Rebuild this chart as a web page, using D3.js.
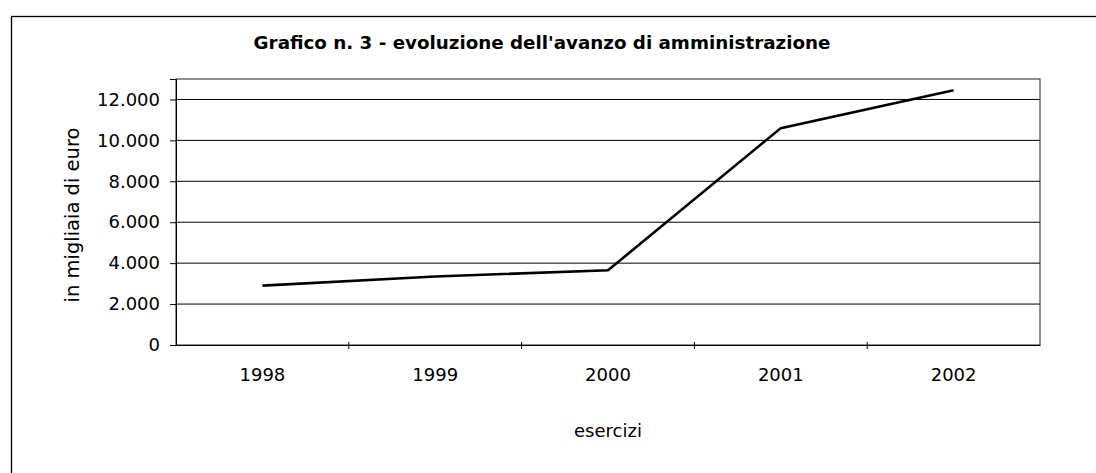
<!DOCTYPE html>
<html>
<head>
<meta charset="utf-8">
<script src="https://cdn.jsdelivr.net/npm/d3@7"></script>
<style>
  body { margin: 0; background: #fff; }
  svg text { font-family: "DejaVu Sans", Verdana, sans-serif; }
</style>
</head>
<body>
<svg id="chart" width="1096" height="473"></svg>
<script>
// data (migliaia di euro)
const years = ["1998", "1999", "2000", "2001", "2002"];
const avanzo = [2900, 3350, 3650, 10600, 12450];
const yTicks = [0, 2000, 4000, 6000, 8000, 10000, 12000];

const svgWidth = 1096, svgHeight = 473;
const margin = { top: 79, right: 56, bottom: 128, left: 176 };
const innerW = svgWidth - margin.left - margin.right;
const innerH = svgHeight - margin.top - margin.bottom;
const FONT = '"DejaVu Sans", Verdana, sans-serif';

const svg = d3.select("#chart");

// outer frame of the chart object (runs off the page on right/bottom)
svg.append("rect")
    .attr("x", 11.5).attr("y", 16.5)
    .attr("width", svgWidth + 20).attr("height", svgHeight + 20)
    .attr("fill", "none").attr("stroke", "#000").attr("stroke-width", 1.3);

// title
svg.append("text")
    .attr("x", 542).attr("y", 49)
    .attr("text-anchor", "middle")
    .style("font-family", FONT)
    .style("font-size", "18.3px")
    .style("font-weight", "bold")
    .text("Grafico n. 3 - evoluzione dell'avanzo di amministrazione");

const chart = svg.append("g")
    .attr("transform", `translate(${margin.left},${margin.top})`);

// scales
const x = d3.scaleBand().domain(years).range([0, innerW]);
const y = d3.scaleLinear().domain([0, 13000]).range([innerH, 0]);

const fmt = d => d3.format(",")(d).replace(/,/g, ".");

// gridlines
chart.selectAll(".grid")
    .data(yTicks.filter(d => d > 0))
    .enter().append("line")
    .attr("x1", 0).attr("x2", innerW)
    .attr("y1", d => y(d)).attr("y2", d => y(d))
    .attr("stroke", "#000").attr("stroke-width", 1);

// plot area frame
chart.append("rect")
    .attr("width", innerW).attr("height", innerH)
    .attr("fill", "none").attr("stroke", "#222").attr("stroke-width", 1);

// y axis
const yAxis = chart.append("g")
    .call(d3.axisLeft(y).tickValues(yTicks).tickFormat(fmt).tickSize(6).tickPadding(10));
yAxis.attr("font-family", null);
yAxis.select(".domain").attr("stroke", "#000");
yAxis.selectAll("text").style("font-family", FONT).style("font-size", "18px").attr("fill", "#000");

// x axis
const xAxis = chart.append("g")
    .attr("transform", `translate(0,${innerH})`)
    .call(d3.axisBottom(x).tickSize(0).tickPadding(23));
xAxis.attr("font-family", null);
xAxis.select(".domain").attr("stroke", "#000");
xAxis.selectAll("text").style("font-family", FONT).style("font-size", "18px").attr("fill", "#000");

// small category separators on the x axis
chart.selectAll(".sep")
    .data(years.slice(1))
    .enter().append("line")
    .attr("x1", d => x(d)).attr("x2", d => x(d))
    .attr("y1", innerH - 3).attr("y2", innerH + 4)
    .attr("stroke", "#000");

// series line
const line = d3.line()
    .x((d, i) => x(years[i]) + x.bandwidth() / 2)
    .y(d => y(d));

chart.append("path")
    .datum(avanzo)
    .attr("d", line)
    .attr("fill", "none")
    .attr("stroke", "#000")
    .attr("stroke-width", 2.6);

// axis titles
svg.append("text")
    .attr("transform", `translate(79,${margin.top + innerH / 2 + 3}) rotate(-90)`)
    .attr("text-anchor", "middle")
    .style("font-family", FONT)
    .style("font-size", "19.5px")
    .text("in migliaia di euro");

svg.append("text")
    .attr("x", margin.left + innerW / 2).attr("y", 437)
    .attr("text-anchor", "middle")
    .style("font-family", FONT)
    .style("font-size", "18px")
    .text("esercizi");
</script>
</body>
</html>
